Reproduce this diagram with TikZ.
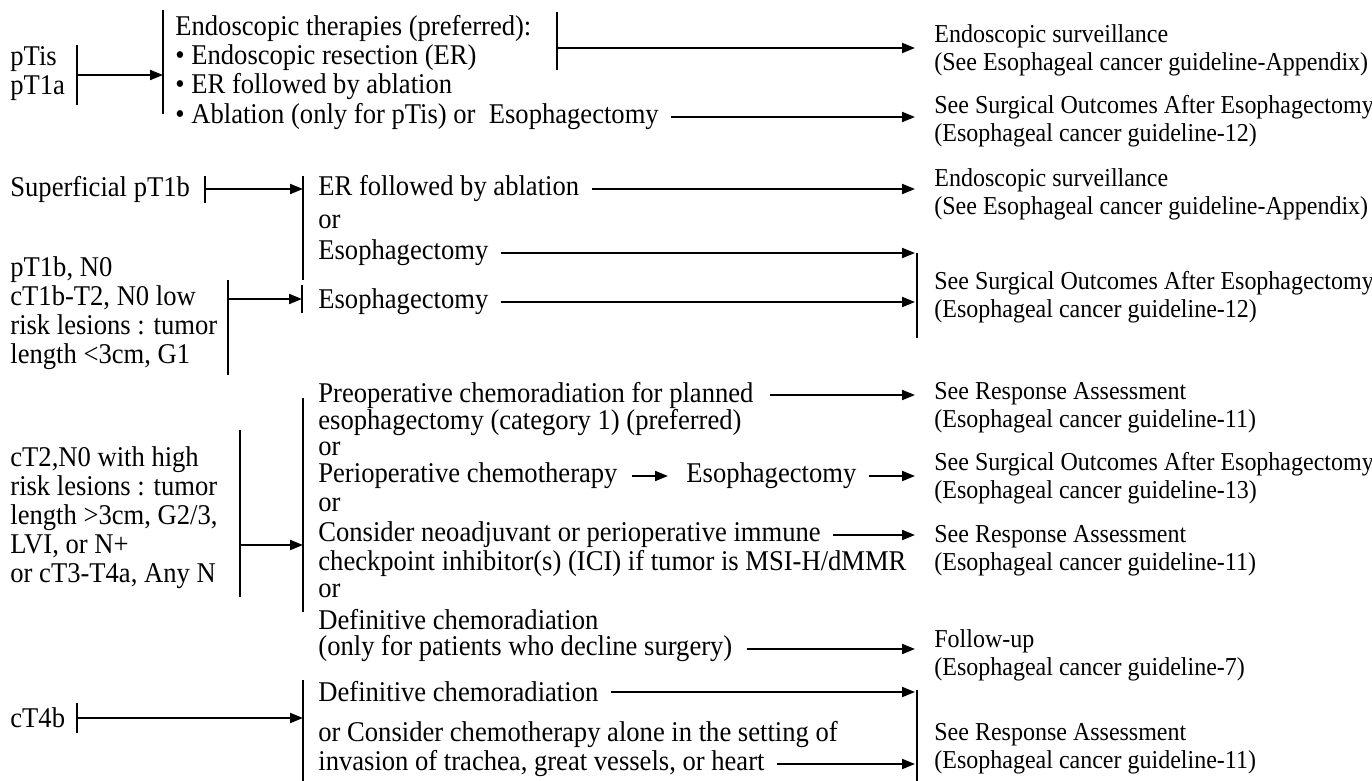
\documentclass[tikz,border=0pt]{standalone}
\usepackage{fontspec}
\setmainfont{Liberation Serif}[FakeStretch=0.93]
\usetikzlibrary{arrows.meta}
\tikzset{
  lab/.style={anchor=west, inner sep=0pt, align=left, font=\fontsize{14.3}{14.5}\selectfont},
  ref/.style={anchor=west, inner ysep=0pt, inner xsep=9.5pt, align=left, font=\fontsize{12.9}{14}\selectfont},
  bar/.style={line width=0.8pt},
  arr/.style={line width=1pt, -{Triangle[length=6.5pt,width=5pt]}},
}
\begin{document}
\begin{tikzpicture}[x=0.5pt,y=-0.5pt]
\useasboundingbox (0,0) rectangle (1372,781);
% pTis, pT1a
\node[lab] (pA) at (10,74) {pTis\\pT1a};
\draw[bar] (77,45) -- (77,105);
\draw[bar] (163,10) -- (163,114);
\coordinate (bA) at (77,75);
\coordinate (mA) at (163,75);
\draw[arr] (bA) -- (mA);
\node[lab] (tA) at (175,58) {Endoscopic therapies (preferred):\\• Endoscopic resection (ER)\\• ER followed by ablation};
\node[lab] (tA4) at (175,117) {• Ablation (only for pTis) or~ Esophagectomy};
\draw[bar] (557,12) -- (557,70);
\coordinate (sA) at (557,48);
\node[ref] (rA1) at (915,50) {Endoscopic surveillance\\(See Esophageal cancer guideline-Appendix)};
\node[ref] (rA2) at (915,121) {See Surgical Outcomes After Esophagectomy\\(Esophageal cancer guideline-12)};
\draw[arr] (sA) -- (sA -| rA1.west);
\draw[arr] ([xshift=6pt]tA4.east) -- (tA4.east -| rA2.west);
% superficial pT1b
\node[lab] (pB) at (10,189) {Superficial pT1b};
\draw[bar] (205,176) -- (205,203);
\draw[bar] (303,176) -- (303,280);
\coordinate (bB) at (205,189);
\coordinate (mB) at (303,189);
\draw[arr] (bB) -- (mB);
\node[lab] (tB1) at (318,189) {ER followed by ablation};
\node[lab] (tB2) at (318,222) {or};
\node[lab] (tB3) at (318,253) {Esophagectomy};
\node[ref] (rB1) at (915,194) {Endoscopic surveillance\\(See Esophageal cancer guideline-Appendix)};
\draw[bar] (917,253) -- (917,338);
\node[ref] (rB2) at (915,297) {See Surgical Outcomes After Esophagectomy\\(Esophageal cancer guideline-12)};
\draw[arr] ([xshift=6pt]tB1.east) -- (tB1.east -| rB1.west);
\draw[arr] ([xshift=6pt]tB3.east) -- (tB3.east -| rB2.west);
% pT1b, N0 low risk
\node[lab] (pC) at (10,313) {pT1b, N0\\cT1b-T2, N0 low\\risk lesions : tumor\\length <3cm, G1};
\draw[bar] (228,280) -- (228,375);
\draw[bar] (302,285) -- (302,313);
\coordinate (bC) at (228,299);
\coordinate (mC) at (302,299);
\draw[arr] (bC) -- (mC);
\node[lab] (tC) at (318,302) {Esophagectomy};
\draw[arr] ([xshift=6pt]tC.east) -- (tC.east -| rB2.west);
% cT2,N0 high risk / cT3-T4a
\node[lab] (pD) at (10,518) {cT2,N0 with high\\risk lesions : tumor\\length >3cm, G2/3,\\LVI, or N+\\or cT3-T4a, Any N};
\draw[bar] (240,430) -- (240,597);
\draw[bar] (303,398) -- (303,612);
\coordinate (bD) at (240,545);
\coordinate (mD) at (303,545);
\draw[arr] (bD) -- (mD);
\node[lab] (tD1) at (318,395) {Preoperative chemoradiation for planned};
\node[lab] (tD2) at (318,423) {esophagectomy (category 1) (preferred)};
\node[lab] (tD3) at (318,449) {or};
\node[lab] (tD4) at (318,476) {Perioperative chemotherapy};
\node[lab] (tD5) at (686,476) {Esophagectomy};
\node[lab] (tD6) at (318,505) {or};
\node[lab] (tD7) at (318,535) {Consider neoadjuvant or perioperative immune};
\node[lab] (tD8) at (318,563) {checkpoint inhibitor(s) (ICI) if tumor is MSI-H/dMMR};
\node[lab] (tD9) at (318,591) {or};
\node[lab] (tD10) at (318,620) {Definitive chemoradiation};
\node[lab] (tD11) at (318,649) {(only for patients who decline surgery)};
\node[ref] (rD1) at (915,408) {See Response Assessment\\(Esophageal cancer guideline-11)};
\node[ref] (rD2) at (915,478) {See Surgical Outcomes After Esophagectomy\\(Esophageal cancer guideline-13)};
\node[ref] (rD3) at (915,551) {See Response Assessment\\(Esophageal cancer guideline-11)};
\node[ref] (rD4) at (915,655) {Follow-up\\(Esophageal cancer guideline-7)};
\draw[arr] ([xshift=8pt]tD1.east) -- (tD1.east -| rD1.west);
\draw[arr] ([xshift=7pt]tD4.east) -- ([xshift=-9pt]tD5.west);
\draw[arr] ([xshift=6pt]tD5.east) -- (tD5.east -| rD2.west);
\draw[arr] ([xshift=6pt]tD7.east) -- (tD7.east -| rD3.west);
\draw[arr] ([xshift=7pt]tD11.east) -- (tD11.east -| rD4.west);
% cT4b
\node[lab] (pE) at (10,718) {cT4b};
\draw[bar] (77,703) -- (77,733);
\draw[bar] (303,680) -- (303,781);
\coordinate (bE) at (77,718);
\coordinate (mE) at (303,718);
\draw[arr] (bE) -- (mE);
\node[lab] (tE1) at (318,692) {Definitive chemoradiation};
\node[lab] (tE2) at (318,735) {or Consider chemotherapy alone in the setting of};
\node[lab] (tE3) at (318,764) {invasion of trachea, great vessels, or heart};
\draw[bar] (917,690) -- (917,781);
\node[ref] (rE) at (915,749) {See Response Assessment\\(Esophageal cancer guideline-11)};
\draw[arr] ([xshift=6pt]tE1.east) -- (tE1.east -| rE.west);
\draw[arr] ([xshift=6pt]tE3.east) -- (tE3.east -| rE.west);
\end{tikzpicture}
\end{document}
